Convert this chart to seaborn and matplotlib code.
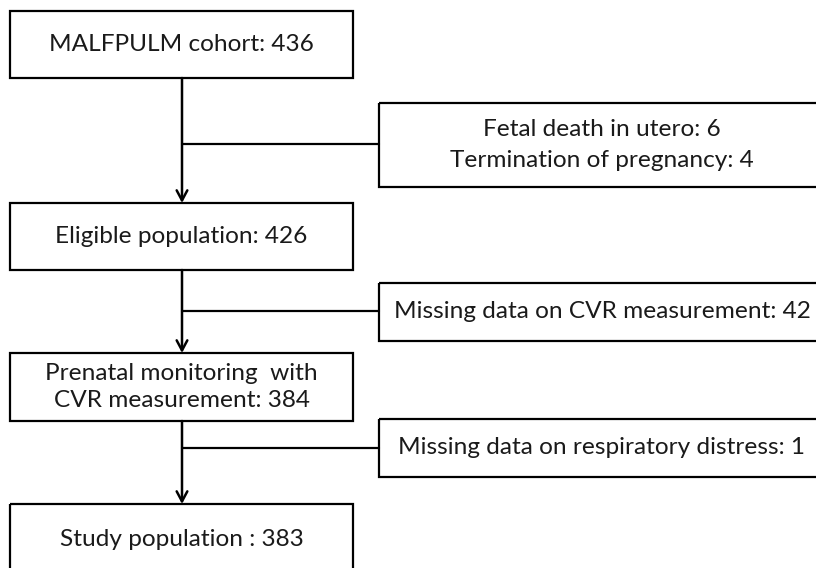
import matplotlib

matplotlib.use("Agg")
import matplotlib.pyplot as plt
import seaborn as sns
from matplotlib.patches import Rectangle

# flow chart content
main_labels = [
    "MALFPULM cohort: 436",
    "Eligible population: 426",
    "Prenatal monitoring  with\nCVR measurement: 384",
    "Study population : 383",
]
excl_labels = [
    "Fetal death in utero: 6\nTermination of pregnancy: 4",
    "Missing data on CVR measurement: 42",
    "Missing data on respiratory distress: 1",
]

# layout in pixels (y down)
main_x0, main_x1 = 10, 353
main_boxes = [(11, 78), (203, 270), (353, 421), (504, 580)]
main_spacing = [1.1, 1.1, 1.3, 1.1]
excl_x0, excl_x1 = 379, 826
excl_boxes = [(103, 187), (283, 341), (419, 477)]
excl_spacing = [1.6, 1.1, 1.1]
branch_y = [144, 311, 448]
spine_x = 182

sns.set_theme(style="white")
plt.rcParams["font.family"] = ["Lato", "DejaVu Sans"]

fig = plt.figure(figsize=(8.16, 5.68), dpi=100)
ax = fig.add_axes([0, 0, 1, 1])
ax.set_xlim(0, 816)
ax.set_ylim(568, 0)
ax.axis("off")

lw = 1.6
fs = 17.6

for (y0, y1), label, ls in zip(main_boxes, main_labels, main_spacing):
    ax.add_patch(Rectangle((main_x0, y0), main_x1 - main_x0, y1 - y0,
                           fill=False, ec="black", lw=lw, clip_on=False))
    yc = (y0 + min(y1, 576)) / 2
    ax.text((main_x0 + main_x1) / 2, yc, label, ha="center", va="center",
            fontsize=fs, color="#1a1a1a", linespacing=ls)

for (y0, y1), label, ls in zip(excl_boxes, excl_labels, excl_spacing):
    ax.add_patch(Rectangle((excl_x0, y0), excl_x1 - excl_x0, y1 - y0,
                           fill=False, ec="black", lw=lw, clip_on=False))
    ax.text(602, (y0 + y1) / 2, label, ha="center", va="center",
            fontsize=fs, color="#1a1a1a", linespacing=ls)

# spine arrows and branches
for i in range(3):
    y_from = main_boxes[i][1]
    y_to = main_boxes[i + 1][0]
    ax.annotate("", xy=(spine_x, y_to), xytext=(spine_x, y_from),
                arrowprops=dict(arrowstyle="->,head_length=0.6,head_width=0.32",
                                lw=lw + 0.2, color="black", shrinkA=0, shrinkB=0))
    ax.plot([spine_x, excl_x0], [branch_y[i], branch_y[i]], color="black", lw=lw)

fig.savefig("out.png", dpi=100)
plt.close(fig)
